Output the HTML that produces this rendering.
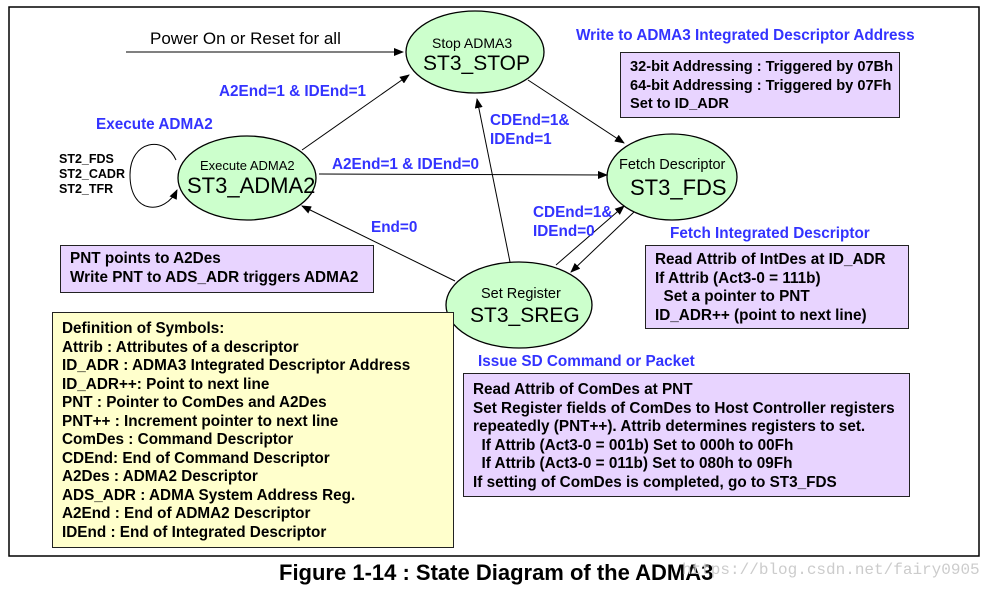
<!DOCTYPE html>
<html><head><style>
body{margin:0;width:994px;height:591px;background:#fff;position:relative;overflow:hidden;font-family:"Liberation Sans",Arial,sans-serif}
.t{position:absolute;white-space:nowrap}
.b{font-weight:bold}
.bl{color:#3333ff;font-weight:bold;font-size:15.3px}
.box{position:absolute;border:1.5px solid #222;background:#e8d4ff;font-weight:bold;font-size:15.3px;line-height:18.5px;box-sizing:border-box;padding:4px 9px;white-space:nowrap}
</style></head><body>
<svg width="994" height="591" style="position:absolute;left:0;top:0">
<defs><marker id="a" markerWidth="10" markerHeight="8" refX="9" refY="4" orient="auto" markerUnits="userSpaceOnUse"><path d="M0,0 L10,4 L0,8z" fill="#000"/></marker></defs>
<rect x="9" y="7" width="970" height="549" fill="none" stroke="#000" stroke-width="1.5"/>
<ellipse cx="475" cy="52" rx="69" ry="41" fill="#ccffcc" stroke="#000" stroke-width="1.3"/>
<ellipse cx="247" cy="178" rx="69" ry="42" fill="#ccffcc" stroke="#000" stroke-width="1.3"/>
<ellipse cx="672" cy="177" rx="65" ry="43" fill="#ccffcc" stroke="#000" stroke-width="1.3"/>
<ellipse cx="519" cy="305" rx="73" ry="43" fill="#ccffcc" stroke="#000" stroke-width="1.3"/>
<g stroke="#000" stroke-width="1" fill="none">
<line x1="126" y1="52" x2="403" y2="52" marker-end="url(#a)"/>
<line x1="302" y1="150" x2="409" y2="75" marker-end="url(#a)"/>
<line x1="319" y1="174" x2="607" y2="175" marker-end="url(#a)"/>
<line x1="455" y1="281" x2="302" y2="206" marker-end="url(#a)"/>
<line x1="510" y1="262" x2="477" y2="99" marker-end="url(#a)"/>
<line x1="528" y1="80" x2="624" y2="143" marker-end="url(#a)"/>
<line x1="556" y1="265" x2="624" y2="206" marker-end="url(#a)"/>
<line x1="634" y1="212" x2="571" y2="272" marker-end="url(#a)"/>
<path d="M176,160 C165,135 130,140 130,175 C130,215 165,215 177,190" marker-end="url(#a)"/>
</g>
</svg>
<div class="t" style="left:150px;top:29px;font-size:17px">Power On or Reset for all</div>
<div class="t" style="left:432px;top:35px;font-size:14px">Stop ADMA3</div>
<div class="t" style="left:423px;top:52px;font-size:21px">ST3_STOP</div>
<div class="t" style="left:200px;top:158px;font-size:13px">Execute ADMA2</div>
<div class="t" style="left:187px;top:173px;font-size:22px">ST3_ADMA2</div>
<div class="t" style="left:619px;top:157px;font-size:14.5px">Fetch Descriptor</div>
<div class="t" style="left:630px;top:175px;font-size:22px">ST3_FDS</div>
<div class="t" style="left:481px;top:286px;font-size:14.5px">Set Register</div>
<div class="t" style="left:470px;top:304px;font-size:21px">ST3_SREG</div>
<div class="t bl" style="left:219px;top:83px">A2End=1 &amp; IDEnd=1</div>
<div class="t bl" style="left:96px;top:116px">Execute ADMA2</div>
<div class="t bl" style="left:332px;top:156px">A2End=1 &amp; IDEnd=0</div>
<div class="t bl" style="left:371px;top:219px">End=0</div>
<div class="t bl" style="left:490px;top:111px;line-height:19px">CDEnd=1&amp;<br>IDEnd=1</div>
<div class="t bl" style="left:533px;top:203px;line-height:19px">CDEnd=1&amp;<br>IDEnd=0</div>
<div class="t bl" style="left:576px;top:27px">Write to ADMA3 Integrated Descriptor Address</div>
<div class="t bl" style="left:670px;top:225px">Fetch Integrated Descriptor</div>
<div class="t bl" style="left:478px;top:353px">Issue SD Command or Packet</div>
<div class="t b" style="left:59px;top:152px;font-size:12.5px;line-height:15px">ST2_FDS<br>ST2_CADR<br>ST2_TFR</div>
<div class="box" style="left:620px;top:52px;width:280px;height:66px;padding-top:5px;font-size:14.6px">32-bit Addressing : Triggered by 07Bh<br>64-bit Addressing : Triggered by 07Fh<br>Set to ID_ADR</div>
<div class="box" style="left:645px;top:245px;width:264px;height:84px;line-height:18.5px;padding-top:5px">Read Attrib of IntDes at ID_ADR<br>If Attrib (Act3-0 = 111b)<br>&nbsp;&nbsp;Set a pointer to PNT<br>ID_ADR++ (point to next line)</div>
<div class="box" style="left:60px;top:245px;width:314px;height:48px;padding-top:4px">PNT points to A2Des<br>Write PNT to ADS_ADR triggers ADMA2</div>
<div class="box" style="left:52px;top:312px;width:402px;height:236px;background:#ffffcc;padding-top:7px">Definition of Symbols:<br>Attrib : Attributes of a descriptor<br>ID_ADR : ADMA3 Integrated Descriptor Address<br>ID_ADR++: Point to next line<br>PNT : Pointer to ComDes and A2Des<br>PNT++ : Increment pointer to next line<br>ComDes : Command Descriptor<br>CDEnd: End of Command Descriptor<br>A2Des : ADMA2 Descriptor<br>ADS_ADR : ADMA System Address Reg.<br>A2End : End of ADMA2 Descriptor<br>IDEnd : End of Integrated Descriptor</div>
<div class="box" style="left:463px;top:373px;width:447px;height:124px;padding-top:7px">Read Attrib of ComDes at PNT<br>Set Register fields of ComDes to Host Controller registers<br>repeatedly (PNT++). Attrib determines registers to set.<br>&nbsp;&nbsp;If Attrib (Act3-0 = 001b) Set to 000h to 00Fh<br>&nbsp;&nbsp;If Attrib (Act3-0 = 011b) Set to 080h to 09Fh<br>If setting of ComDes is completed, go to ST3_FDS</div>
<div class="t b" style="left:279px;top:560px;font-size:22px">Figure 1-14 : State Diagram of the ADMA3</div>
<div class="t" style="left:682px;top:561px;font-size:16px;color:#ccc;font-family:'Liberation Mono',monospace">https://blog.csdn.net/fairy0905</div>
</body></html>
